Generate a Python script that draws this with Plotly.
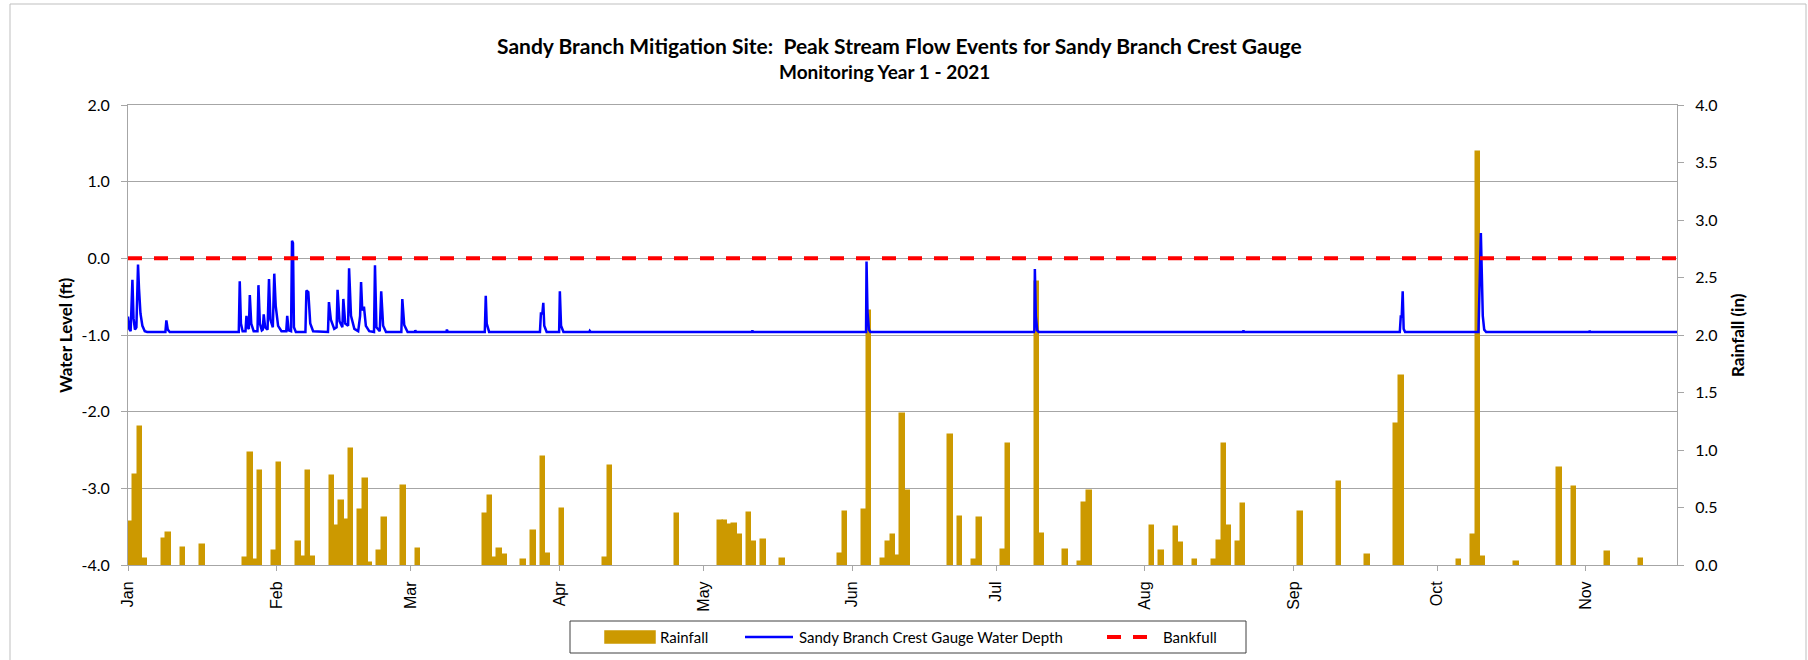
import pandas as pd
import plotly.graph_objects as go

# ---------------- data ----------------
START = pd.Timestamp("2021-01-01")
END = pd.Timestamp("2021-11-20")

# daily rainfall (day offset from Jan 1, inches)
rain_day = [0, 1, 2, 3, 7, 8, 11, 15, 24, 25, 26, 27, 30, 31, 35, 36, 37, 38,
            42, 43, 44, 45, 46, 48, 49, 50, 52, 53, 57, 60, 74, 75, 76, 77, 78,
            82, 84, 86, 87, 90, 99, 100, 114, 123, 124, 125, 126, 127, 129, 130,
            132, 136, 148, 149, 153, 154, 157, 158, 159, 160, 161, 162, 171, 173,
            176, 177, 182, 183, 189, 190, 195, 198, 199, 200, 213, 215, 218, 219,
            222, 226, 227, 228, 229, 231, 232, 244, 252, 258, 264, 265, 277, 280,
            281, 282, 289, 298, 301, 308, 315]
rain_in = [0.37, 0.78, 1.20, 0.05, 0.23, 0.28, 0.15, 0.17, 0.06, 0.97, 0.04, 0.82,
           0.12, 0.89, 0.20, 0.07, 0.82, 0.07, 0.77, 0.34, 0.56, 0.39, 1.01, 0.48,
           0.75, 0.02, 0.12, 0.41, 0.69, 0.14, 0.44, 0.60, 0.06, 0.14, 0.09, 0.04,
           0.30, 0.94, 0.10, 0.49, 0.06, 0.86, 0.44, 0.38, 0.38, 0.35, 0.36, 0.26,
           0.45, 0.20, 0.22, 0.05, 0.10, 0.46, 0.48, 2.21, 0.05, 0.20, 0.26, 0.08,
           1.31, 0.64, 1.13, 0.42, 0.04, 0.41, 0.13, 1.05, 2.46, 0.27, 0.13, 0.03,
           0.54, 0.64, 0.34, 0.12, 0.33, 0.19, 0.04, 0.04, 0.21, 1.05, 0.34, 0.20,
           0.53, 0.46, 0.72, 0.09, 1.23, 1.64, 0.04, 0.26, 3.59, 0.07, 0.03, 0.84,
           0.68, 0.11, 0.05]

# crest gauge water depth (day offset from Jan 1, ft)
water_day = [0.00, 0.25, 0.55, 0.92, 1.15, 1.45, 1.75, 2.09, 2.30, 2.60, 3.00, 3.50, 4.00,
             7.80, 8.00, 8.30, 8.70,
             23.10, 23.30, 23.55, 23.90, 24.50, 24.70, 24.95, 25.20, 25.40, 25.70, 26.20,
             27.00, 27.20, 27.50, 27.90, 28.10, 28.30, 28.60, 29.10, 29.40, 29.70, 30.20,
             30.50, 30.80, 31.30, 32.00, 33.00, 33.20, 33.50, 34.00, 34.20, 34.40, 34.60,
             35.00,
             37.00, 37.20, 37.60, 38.00, 38.60,
             41.70, 41.90, 42.30, 43.00, 43.50, 43.70, 44.10, 44.70, 44.90, 45.30, 45.90,
             46.10, 46.50, 47.20, 48.00, 48.40, 48.60, 48.85, 49.20, 49.60, 50.30, 51.30,
             51.50, 51.80, 52.50, 52.80, 53.20, 53.80,
             57.00, 57.20, 57.60, 58.30,
             59.80, 59.90, 60.10,
             66.40, 66.50, 66.70,
             74.40, 74.60, 74.80, 75.30,
             85.90, 86.10, 86.40, 86.60, 86.80, 87.30,
             89.90, 90.05, 90.30, 90.80,
             96.20, 96.30, 96.50,
             130.10, 130.20, 130.30,
             153.90, 154.00, 154.20, 154.50, 154.80,
             188.90, 189.00, 189.10, 189.30, 189.60, 189.90,
             232.50, 232.60, 232.70,
             265.20, 265.40, 265.60, 265.80, 266.00, 266.30,
             281.60, 282.10, 282.30, 282.50, 282.80, 283.20,
             304.70, 304.80, 304.90,
             323.00]
water_ft = [-0.76, -0.92, -0.95, -0.28, -0.78, -0.93, -0.90, -0.08, -0.40, -0.72, -0.88, -0.95, -0.96,
            -0.96, -0.81, -0.93, -0.96,
            -0.96, -0.30, -0.85, -0.95, -0.95, -0.75, -0.90, -0.92, -0.48, -0.85, -0.95,
            -0.95, -0.35, -0.85, -0.94, -0.93, -0.73, -0.90, -0.93, -0.27, -0.80, -0.90,
            -0.20, -0.62, -0.88, -0.95, -0.95, -0.75, -0.94, -0.95, 0.23, 0.20, -0.90,
            -0.96,
            -0.96, -0.42, -0.44, -0.85, -0.95,
            -0.96, -0.57, -0.80, -0.92, -0.90, -0.41, -0.82, -0.90, -0.53, -0.85, -0.88,
            -0.13, -0.75, -0.92, -0.95, -0.75, -0.31, -0.68, -0.63, -0.88, -0.95, -0.96,
            -0.09, -0.90, -0.95, -0.43, -0.88, -0.96,
            -0.96, -0.53, -0.87, -0.96,
            -0.96, -0.94, -0.96,
            -0.96, -0.93, -0.96,
            -0.96, -0.49, -0.85, -0.96,
            -0.96, -0.72, -0.72, -0.58, -0.88, -0.96,
            -0.96, -0.43, -0.88, -0.96,
            -0.96, -0.945, -0.96,
            -0.96, -0.94, -0.96,
            -0.96, -0.04, -0.70, -0.93, -0.96,
            -0.96, -0.94, -0.14, -0.75, -0.94, -0.96,
            -0.96, -0.94, -0.96,
            -0.96, -0.76, -0.76, -0.43, -0.92, -0.96,
            -0.96, 0.33, -0.20, -0.75, -0.93, -0.96,
            -0.96, -0.945, -0.96,
            -0.96]

bankfull_ft = 0.0

month_ticks = ["2021-01-01", "2021-02-01", "2021-03-01", "2021-04-01", "2021-05-01",
               "2021-06-01", "2021-07-01", "2021-08-01", "2021-09-01", "2021-10-01",
               "2021-11-01"]
month_labels = ["Jan", "Feb", "Mar", "Apr", "May", "Jun", "Jul", "Aug", "Sep", "Oct", "Nov"]

level_ticks = [-4, -3, -2, -1, 0, 1, 2]
level_labels = ["-4.0", "-3.0", "-2.0", "-1.0", "0.0", "1.0", "2.0"]

title_line1 = "Sandy Branch Mitigation Site:  Peak Stream Flow Events for Sandy Branch Crest Gauge"
title_line2 = "Monitoring Year 1 - 2021"

# ---------------- colours / layout constants ----------------
GOLD = "#CC9900"
BLUE = "#0000FF"
RED = "#FF0000"
GRID = "#A6A6A6"
FONT = "Lato"
XFONT = "Liberation Sans"

W, H = 1808, 660
L, R, T, B = 128, 131, 105, 95
PW, PH = W - L - R, H - T - B


def px(x):
    return (x - L) / PW


def py(y):
    return (H - B - y) / PH


rain_x = START + pd.to_timedelta(rain_day, unit="D") + pd.Timedelta(hours=12)
water_x = START + pd.to_timedelta(water_day, unit="D")

fig = go.Figure()

# rainfall bars on the primary (right-side) axis so the lines overlay them
fig.add_trace(go.Bar(
    x=rain_x, y=rain_in, yaxis="y", name="Rainfall",
    width=86400000 * 0.95,
    marker=dict(color=GOLD, line=dict(color=GOLD, width=1.5)),
    showlegend=False,
))

fig.add_trace(go.Scatter(
    x=water_x, y=water_ft, yaxis="y2", mode="lines",
    name="Sandy Branch Crest Gauge Water Depth",
    line=dict(color=BLUE, width=2.5), showlegend=False,
))

fig.add_trace(go.Scatter(
    x=[START, END], y=[bankfull_ft, bankfull_ft], yaxis="y2", mode="lines",
    name="Bankfull", line=dict(color=RED, width=4, dash="14px,12px"),
    showlegend=False,
))

tickfont = dict(family=FONT, size=16, color="#000000")

fig.update_layout(
    width=W, height=H, autosize=False,
    margin=dict(l=L, r=R, t=T, b=B, pad=0),
    paper_bgcolor="white", plot_bgcolor="white",
    font=dict(family=FONT, color="#000000"),
    bargap=0,
    xaxis=dict(
        type="date", range=[START, END],
        tickmode="array", tickvals=month_ticks, ticktext=month_labels,
        tickangle=-90, tickfont=dict(family=XFONT, size=16, color="#000000"),
        ticks="outside", ticklen=5, tickcolor=GRID, tickwidth=1,
        showline=True, linecolor=GRID, linewidth=1, mirror=True,
        showgrid=False, zeroline=False, ticklabelstandoff=4,
    ),
    # rainfall axis (right)
    yaxis=dict(
        range=[0, 4], dtick=0.5, tick0=0, tickformat=".1f", side="right",
        tickfont=tickfont, ticks="outside", ticklen=6, tickcolor=GRID,
        showline=True, linecolor=GRID, linewidth=1,
        showgrid=False, zeroline=False, ticklabelstandoff=8,
    ),
    # water level axis (left)
    yaxis2=dict(
        range=[-4, 2], tickmode="array", tickvals=level_ticks, ticktext=level_labels,
        side="left", overlaying="y", anchor="x",
        tickfont=tickfont, ticks="outside", ticklen=6, tickcolor=GRID,
        showline=True, linecolor=GRID, linewidth=1,
        showgrid=True, gridcolor=GRID, gridwidth=1, zeroline=False,
        ticklabelstandoff=8,
    ),
)

annotations = [
    dict(text="<b>" + title_line1 + "</b>", x=px(899), y=py(45), xref="paper", yref="paper",
         xanchor="center", yanchor="middle", showarrow=False,
         font=dict(family=FONT, size=21, color="#000000")),
    dict(text="<b>" + title_line2 + "</b>", x=px(884), y=py(71), xref="paper", yref="paper",
         xanchor="center", yanchor="middle", showarrow=False,
         font=dict(family=FONT, size=19, color="#000000")),
    dict(text="<b>Water Level (ft)</b>", x=px(65), y=0.5, xref="paper", yref="paper",
         xanchor="center", yanchor="middle", textangle=-90, showarrow=False,
         font=dict(family=FONT, size=17, color="#000000")),
    dict(text="<b>Rainfall (in)</b>", x=px(1737), y=0.5, xref="paper", yref="paper",
         xanchor="center", yanchor="middle", textangle=-90, showarrow=False,
         font=dict(family=FONT, size=17, color="#000000")),
    dict(text="Rainfall", x=px(658), y=py(637), xref="paper", yref="paper",
         xanchor="left", yanchor="middle", showarrow=False,
         font=dict(family=FONT, size=15, color="#000000")),
    dict(text="Sandy Branch Crest Gauge Water Depth", x=px(797), y=py(637), xref="paper",
         yref="paper", xanchor="left", yanchor="middle", showarrow=False,
         font=dict(family=FONT, size=15, color="#000000")),
    dict(text="Bankfull", x=px(1161), y=py(637), xref="paper", yref="paper",
         xanchor="left", yanchor="middle", showarrow=False,
         font=dict(family=FONT, size=15, color="#000000")),
]

shapes = [
    # outer chart border
    dict(type="rect", xref="paper", yref="paper", x0=px(10), x1=px(1806),
         y0=py(4), y1=py(700), line=dict(color="#BFBFBF", width=1), layer="below"),
    # legend box
    dict(type="rect", xref="paper", yref="paper", x0=px(570), x1=px(1246),
         y0=py(621), y1=py(653), line=dict(color="#404040", width=1), fillcolor="white"),
    # legend: rainfall swatch
    dict(type="rect", xref="paper", yref="paper", x0=px(605), x1=px(655),
         y0=py(631), y1=py(643), line=dict(color=GOLD, width=1.5), fillcolor=GOLD),
    # legend: water depth line
    dict(type="line", xref="paper", yref="paper", x0=px(745), x1=px(793),
         y0=py(637), y1=py(637), line=dict(color=BLUE, width=2.5)),
    # legend: bankfull dashes
    dict(type="line", xref="paper", yref="paper", x0=px(1107), x1=px(1148),
         y0=py(637), y1=py(637), line=dict(color=RED, width=4, dash="14px,12px")),
]

fig.update_layout(annotations=annotations, shapes=shapes)

fig.write_html(
    "out.html",
    config={"displayModeBar": False},
    post_script="document.body.style.margin='0';document.body.style.overflow='hidden';",
)
